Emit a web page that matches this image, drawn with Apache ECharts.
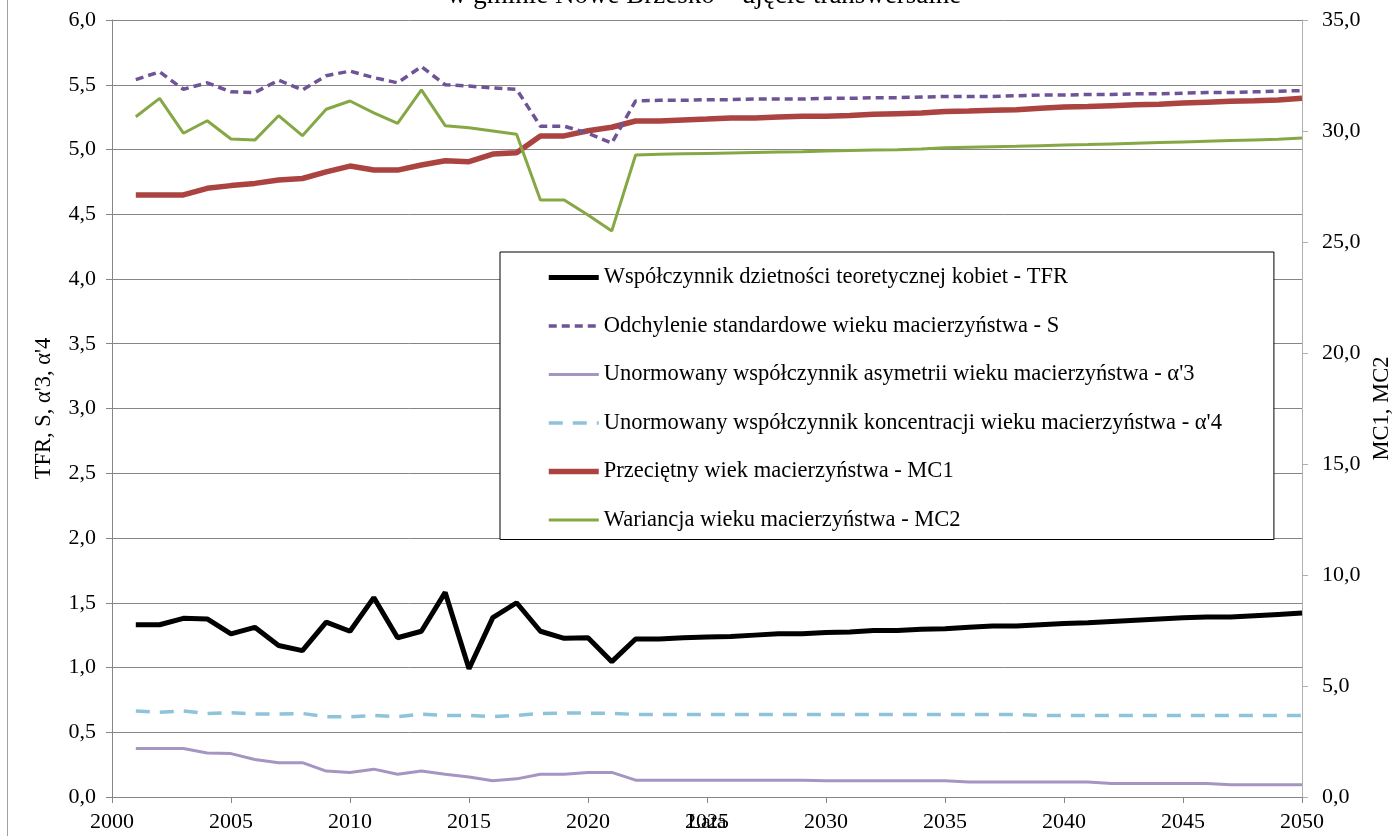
<!DOCTYPE html>
<html>
<head>
    <meta charset="utf-8">
    <title>Parametry płodności - Nowe Brzesko</title>
    <script src="https://cdn.jsdelivr.net/npm/echarts@6/dist/echarts.min.js"></script>
    <style>
        html, body { margin: 0; padding: 0; background: #fff; }
    </style>
</head>
<body>
<div id="main" style="width: 1394px;height:836px;"></div>
<script type="text/javascript">

    /* dane ===================================== */
    var lata = [2001, 2002, 2003, 2004, 2005, 2006, 2007, 2008, 2009, 2010,
        2011, 2012, 2013, 2014, 2015, 2016, 2017, 2018, 2019, 2020,
        2021, 2022, 2023, 2024, 2025, 2026, 2027, 2028, 2029, 2030,
        2031, 2032, 2033, 2034, 2035, 2036, 2037, 2038, 2039, 2040,
        2041, 2042, 2043, 2044, 2045, 2046, 2047, 2048, 2049, 2050];

    var tfr = [1.33, 1.33, 1.38, 1.375, 1.26, 1.31, 1.17, 1.13, 1.35, 1.28,
        1.54, 1.23, 1.28, 1.58, 0.99, 1.385, 1.50, 1.28, 1.225, 1.23,
        1.045, 1.22, 1.22, 1.23, 1.235, 1.24, 1.25, 1.26, 1.26, 1.27,
        1.275, 1.285, 1.285, 1.295, 1.30, 1.31, 1.32, 1.32, 1.33, 1.34,
        1.345, 1.355, 1.365, 1.375, 1.385, 1.39, 1.39, 1.40, 1.41, 1.42];

    var odchylenieS = [5.54, 5.60, 5.465, 5.515, 5.445, 5.44, 5.535, 5.46, 5.57, 5.605,
        5.555, 5.515, 5.64, 5.50, 5.49, 5.475, 5.465, 5.18, 5.18, 5.125,
        5.05, 5.375, 5.38, 5.38, 5.385, 5.385, 5.39, 5.39, 5.39, 5.395,
        5.395, 5.40, 5.40, 5.405, 5.41, 5.41, 5.41, 5.415, 5.42, 5.42,
        5.425, 5.425, 5.43, 5.43, 5.435, 5.44, 5.44, 5.445, 5.45, 5.455];

    var alfa3 = [0.375, 0.375, 0.375, 0.34, 0.335, 0.29, 0.265, 0.265, 0.20, 0.19,
        0.215, 0.175, 0.20, 0.175, 0.155, 0.125, 0.14, 0.175, 0.175, 0.19,
        0.19, 0.13, 0.13, 0.13, 0.13, 0.13, 0.13, 0.13, 0.13, 0.125,
        0.125, 0.125, 0.125, 0.125, 0.125, 0.115, 0.115, 0.115, 0.115, 0.115,
        0.115, 0.105, 0.105, 0.105, 0.105, 0.105, 0.095, 0.095, 0.095, 0.095];

    var alfa4 = [0.665, 0.655, 0.665, 0.645, 0.65, 0.64, 0.64, 0.645, 0.62, 0.62,
        0.63, 0.62, 0.64, 0.63, 0.63, 0.62, 0.63, 0.645, 0.648, 0.648,
        0.645, 0.638, 0.638, 0.638, 0.638, 0.638, 0.638, 0.638, 0.638, 0.638,
        0.638, 0.638, 0.638, 0.638, 0.638, 0.638, 0.638, 0.638, 0.63, 0.63,
        0.63, 0.63, 0.63, 0.63, 0.63, 0.63, 0.63, 0.63, 0.63, 0.63];

    var mc1 = [27.12, 27.12, 27.12, 27.42, 27.54, 27.64, 27.79, 27.86, 28.16, 28.42,
        28.24, 28.24, 28.47, 28.66, 28.62, 28.96, 29.02, 29.78, 29.78, 30.01,
        30.17, 30.45, 30.45, 30.50, 30.54, 30.59, 30.59, 30.63, 30.66, 30.66,
        30.70, 30.75, 30.78, 30.81, 30.88, 30.90, 30.94, 30.96, 31.02, 31.08,
        31.10, 31.14, 31.18, 31.20, 31.26, 31.30, 31.34, 31.36, 31.40, 31.47];

    var mc2 = [30.64, 31.47, 29.90, 30.46, 29.64, 29.59, 30.69, 29.79, 30.98, 31.35,
        30.82, 30.34, 31.85, 30.24, 30.15, 30.00, 29.85, 26.89, 26.89, 26.22,
        25.50, 28.92, 28.95, 28.97, 28.99, 29.01, 29.03, 29.05, 29.07, 29.10,
        29.12, 29.14, 29.16, 29.19, 29.24, 29.27, 29.29, 29.31, 29.34, 29.37,
        29.39, 29.42, 29.45, 29.48, 29.51, 29.54, 29.57, 29.60, 29.63, 29.68];

    var nazwy = [
        'Współczynnik dzietności teoretycznej kobiet - TFR',
        'Odchylenie standardowe wieku macierzyństwa - S',
        'Unormowany współczynnik asymetrii wieku macierzyństwa - α\'3',
        'Unormowany współczynnik koncentracji wieku macierzyństwa - α\'4',
        'Przeciętny wiek macierzyństwa - MC1',
        'Wariancja wieku macierzyństwa - MC2'
    ];

    var kolory = ['#000000', '#6e5396', '#a595c2', '#8ec4d9', '#ab4340', '#86a844'];
    var grubosci = [5, 3.5, 3, 3.5, 5.5, 3];
    var kreski = ['solid', [8, 5], 'solid', [14, 10], 'solid', 'solid'];

    function pary(arr) {
        return arr.map(function (v, i) { return [lata[i], v]; });
    }

    function przecinek(v) {
        return v.toFixed(1).replace('.', ',');
    }

    var font = 'Liberation Serif';

    /* serie ===================================== */
    var dane = [tfr, odchylenieS, alfa3, alfa4, mc1, mc2];
    var osie = [0, 0, 0, 0, 1, 1];
    var warstwy = [6, 5, 4, 4, 3, 3];

    var serie = dane.map(function (d, i) {
        return {
            name: nazwy[i],
            type: 'line',
            yAxisIndex: osie[i],
            data: pary(d),
            symbol: 'none',
            z: warstwy[i],
            lineStyle: { color: kolory[i], width: grubosci[i], type: kreski[i] },
            itemStyle: { color: kolory[i] }
        };
    });

    var legenda = nazwy.map(function (n, i) {
        return {
            name: n,
            itemStyle: { opacity: 0 },
            lineStyle: { color: kolory[i], width: grubosci[i], type: kreski[i] }
        };
    });

    /* wykres ===================================== */
    var myChart = echarts.init(document.getElementById('main'));

    myChart.setOption({
        animation: false,
        textStyle: { fontFamily: font },
        title: {
            text: 'w gminie Nowe Brzesko – ujęcie transwersalne',
            left: 447,
            top: -18,
            padding: 0,
            textStyle: { fontFamily: font, fontSize: 27, fontWeight: 'normal', color: '#000' }
        },
        graphic: [{
            type: 'line',
            shape: { x1: 7.5, y1: 0, x2: 7.5, y2: 836 },
            style: { stroke: '#a0a0a0', lineWidth: 1 }
        }],
        grid: { left: 112, right: 92, top: 20, bottom: 39, outerBoundsMode: 'none' },
        legend: {
            orient: 'vertical',
            left: 500,
            top: 252,
            padding: [14, 52, 8, 46],
            itemGap: 25.5,
            itemWidth: 50,
            itemHeight: 14,
            backgroundColor: '#fff',
            borderColor: '#000',
            borderWidth: 1,
            itemStyle: { opacity: 0 },
            textStyle: { fontFamily: font, fontSize: 22.5, lineHeight: 22, color: '#000' },
            data: legenda
        },
        xAxis: {
            type: 'value',
            min: 2000,
            max: 2050,
            interval: 5,
            name: 'Lata',
            nameLocation: 'middle',
            nameGap: 14,
            nameMoveOverlap: false,
            nameTextStyle: { fontFamily: font, fontSize: 22, color: '#000', verticalAlign: 'top' },
            axisLine: { lineStyle: { color: '#868686' } },
            axisTick: { length: 6, lineStyle: { color: '#868686' } },
            axisLabel: {
                fontFamily: font, fontSize: 22, color: '#000', margin: 14,
                formatter: function (v) { return String(v); }
            },
            splitLine: { show: false }
        },
        yAxis: [
            {
                type: 'value',
                min: 0,
                max: 6,
                interval: 0.5,
                name: 'TFR, S, α\'3, α\'4',
                nameLocation: 'middle',
                nameGap: 56,
                nameMoveOverlap: false,
                nameTextStyle: { fontFamily: font, fontSize: 22.5, color: '#000' },
                axisLine: { show: true, lineStyle: { color: '#868686' } },
                axisTick: { show: true, length: 6, lineStyle: { color: '#868686' } },
                axisLabel: { fontFamily: font, fontSize: 22, color: '#000', margin: 16, formatter: przecinek },
                splitLine: { lineStyle: { color: '#868686', width: 1 } }
            },
            {
                type: 'value',
                min: 0,
                max: 35,
                interval: 5,
                name: 'MC1, MC2',
                nameLocation: 'middle',
                nameGap: 69,
                nameRotate: 90,
                nameMoveOverlap: false,
                nameTextStyle: { fontFamily: font, fontSize: 22.5, color: '#000' },
                axisLine: { show: true, lineStyle: { color: '#b0b0b0' } },
                axisTick: { show: true, length: 6, lineStyle: { color: '#b0b0b0' } },
                axisLabel: { fontFamily: font, fontSize: 22, color: '#000', margin: 20, formatter: przecinek },
                splitLine: { show: false }
            }
        ],
        series: serie
    });

</script>
</body>
</html>
